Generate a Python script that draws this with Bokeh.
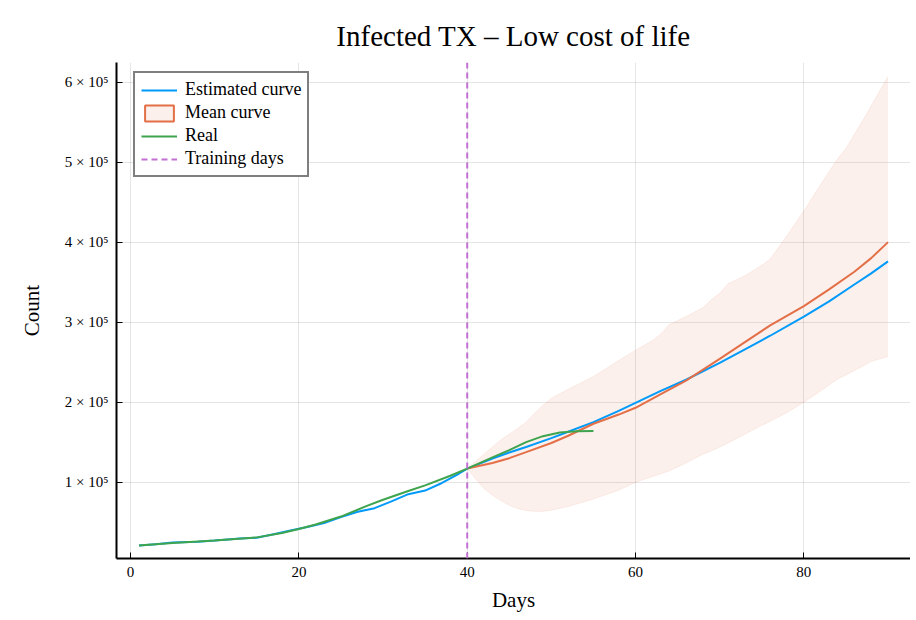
from bokeh.plotting import figure
from bokeh.models import Range1d, FixedTicker, Span, Legend, LegendItem
from bokeh.embed import file_html
from bokeh.resources import INLINE

FONT = "Liberation Serif"
NAN = float("nan")

# ---- data ----
real_days = [1, 5, 10, 15, 18, 20, 22, 25, 28, 30, 33, 35, 38, 40, 43, 45, 47, 49, 51, 53, 55]
real_vals = [21000, 24000, 27000, 31000, 36500, 41500, 47000, 57000, 70000, 78000, 89000,
             96000, 108000, 117000, 131000, 140000, 150000, 157500, 162000, 163500, 164000]

est_days = [1, 3, 5, 8, 10, 13, 15, 17, 19, 21, 23, 25, 27, 29, 31, 33, 35, 37, 39, 40,
            43, 45, 47, 50, 52, 55, 58, 60, 63, 66, 70, 73, 76, 80, 83, 86, 88, 90]
est_vals = [21000, 22500, 24500, 25500, 27000, 29500, 30500, 35000, 39500, 44000, 49000,
            56500, 63000, 67500, 76000, 85000, 89500, 99000, 110500, 117000,
            129500, 137000, 144000, 155000, 163000, 175000, 189000, 199000, 214000,
            228000, 249000, 266000, 283000, 307000, 326000, 347000, 361000, 376000]

mean_days = [40, 43, 45, 47, 50, 52, 55, 58, 60, 63, 66, 70, 73, 76, 80, 83, 86, 88, 90]
mean_vals = [117000, 124000, 130000, 137500, 149000, 158000, 173000, 184500, 193000,
             210000, 227000, 254000, 275000, 296000, 320000, 341000, 363000, 380000, 400000]

band_days = [40, 41, 42, 43, 44, 45, 46, 47, 48, 49, 50, 52, 55, 58, 60, 62, 63, 64, 66,
             68, 69, 70, 71, 73, 75, 76, 78, 80, 82, 84, 85, 87, 88, 90]
band_upper = [117000, 126000, 135000, 144000, 153000, 160000, 167000, 175000, 186000,
              196000, 205000, 216000, 232000, 252000, 265000, 277000, 285000, 297000,
              307000, 318000, 328000, 336000, 348000, 358000, 371000, 379000, 408000,
              439000, 472000, 504000, 517000, 552000, 570000, 607000]
band_lower = [117000, 104000, 92000, 83500, 77000, 71000, 67000, 64500, 63500, 63500,
              65000, 69500, 79000, 90000, 100000, 107000, 110500, 114000, 124000,
              135000, 139000, 144000, 149000, 160000, 171000, 176000, 187000, 200000,
              214000, 229000, 234000, 245000, 251000, 257000]

training_day = 40

x_ticks = [0, 20, 40, 60, 80]
y_ticks = [100000, 200000, 300000, 400000, 500000, 600000]
y_tick_labels = ["1 × 10⁵", "2 × 10⁵", "3 × 10⁵", "4 × 10⁵", "5 × 10⁵", "6 × 10⁵"]

BLUE = "#009AFA"
RED = "#E36F47"
GREEN = "#3EA44E"
PURPLE = "#C271D2"

p = figure(width=910, height=614, output_backend="svg", toolbar_location=None,
           x_range=Range1d(-1.67, 92.67), y_range=Range1d(4600, 624500),
           min_border_left=116, min_border_right=0, min_border_top=62,
           min_border_bottom=56, background_fill_color="white")

p.title.text = "Infected TX – Low cost of life"
p.title.align = "center"
p.title.text_font = FONT
p.title.text_font_size = "29px"
p.title.text_font_style = "normal"
p.title.text_color = "black"
p.title.standoff = 22

p.outline_line_color = None
p.grid.grid_line_color = "black"
p.grid.grid_line_alpha = 0.1
p.grid.grid_line_width = 1

p.xaxis.ticker = FixedTicker(ticks=x_ticks)
p.yaxis.ticker = FixedTicker(ticks=y_ticks)
p.yaxis.major_label_overrides = {t: l for t, l in zip(y_ticks, y_tick_labels)}
for ax in (p.xaxis, p.yaxis):
    ax.axis_line_width = 2
    ax.axis_line_color = "black"
    ax.major_tick_in = 6
    ax.major_tick_out = 0
    ax.major_tick_line_color = "black"
    ax.minor_tick_line_color = None
    ax.major_label_text_font = FONT
    ax.major_label_text_color = "black"
    ax.axis_label_text_font = FONT
    ax.axis_label_text_font_style = "normal"
    ax.axis_label_text_font_size = "21px"
    ax.axis_label_text_color = "black"
p.xaxis.major_label_text_font_size = "15px"
p.yaxis.major_label_text_font_size = "15px"
p.xaxis.major_label_standoff = 8
p.yaxis.major_label_standoff = 8
p.xaxis.axis_label = "Days"
p.yaxis.axis_label = "Count"
p.xaxis.axis_label_standoff = 8
p.yaxis.axis_label_standoff = 18

# ribbon
p.varea(x=band_days, y1=band_lower, y2=band_upper, fill_color=RED, fill_alpha=0.1)
p.line(band_days, band_upper, line_color=RED, line_alpha=0.1, line_width=1)
p.line(band_days, band_lower, line_color=RED, line_alpha=0.1, line_width=1)

r_est = p.line(est_days, est_vals, line_color=BLUE, line_width=2)
r_mean = p.line(mean_days, mean_vals, line_color=RED, line_width=2)
r_real = p.line(real_days, real_vals, line_color=GREEN, line_width=2)

p.add_layout(Span(location=training_day, dimension="height", line_color=PURPLE,
                  line_width=2, line_dash="6 4"))

# legend-only renderers (nothing drawn in the plot area)
r_mean_leg = p.quad(left=[NAN], right=[NAN], top=[NAN], bottom=[NAN], fill_color=RED,
                    fill_alpha=0.1, line_color=RED, line_width=2)
r_train_leg = p.line(x=[NAN, NAN], y=[NAN, NAN], line_color=PURPLE, line_width=2,
                     line_dash="6 4")

legend = Legend(items=[
    LegendItem(label="Estimated curve", renderers=[r_est]),
    LegendItem(label="Mean curve", renderers=[r_mean_leg]),
    LegendItem(label="Real", renderers=[r_real]),
    LegendItem(label="Training days", renderers=[r_train_leg]),
], location=(17, 381))
legend.margin = 0
legend.padding = 6
legend.spacing = 2
legend.glyph_width = 36
legend.glyph_height = 20
legend.label_height = 20
legend.label_standoff = 8
legend.label_text_font = FONT
legend.label_text_font_size = "18px"
legend.label_text_color = "black"
legend.border_line_color = "black"
legend.border_line_width = 2
legend.background_fill_alpha = 1
p.add_layout(legend)

open("out.html", "w").write(file_html(p, INLINE))
